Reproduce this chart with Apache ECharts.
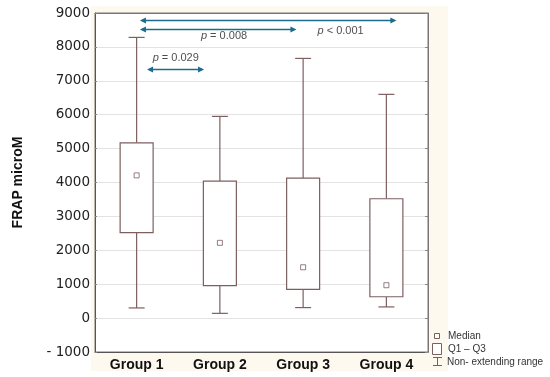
<!DOCTYPE html>
<html>
<head>
<meta charset="utf-8">
<script src="https://cdn.jsdelivr.net/npm/echarts@6/dist/echarts.min.js"></script>
<style>html,body{margin:0;padding:0;background:#fff;}#chart{width:550px;height:377px;}</style>
</head>
<body>
<div id="chart"></div>
<script>
// ---- data ----
var categories = ['Group 1', 'Group 2', 'Group 3', 'Group 4'];
var whiskerLow  = [300, 140, 310, 330];
var q1          = [2520, 960, 850, 630];
var median      = [4210, 2220, 1500, 970];
var q3          = [5170, 4040, 4130, 3520];
var whiskerHigh = [8280, 5950, 7660, 6600];
// comparison brackets
var cmpFrom   = [0.04, 0.04, 0.125];
var cmpTo     = [3.12, 1.92, 0.81];
var cmpY      = [8800, 8520, 7340];
var cmpLabel  = ['< 0.001', '= 0.008', '= 0.029'];
var cmpLabelX = [2.45, 1.05, 0.47];
var cmpLabelY = [8470, 8320, 7680];
var yTicks = { min: -1000, max: 9000, interval: 1000 };

var boxColor = '#7d5f60';
var arrowColor = '#1c6b8c';

var chart = echarts.init(document.getElementById('chart'), null, {renderer: 'canvas'});

var boxData = categories.map(function (c, i) {
  return [i, whiskerLow[i], q1[i], median[i], q3[i], whiskerHigh[i]];
});
var cmpData = cmpFrom.map(function (f, i) { return [f, cmpTo[i], cmpY[i]]; });
var labelData = cmpLabel.map(function (l, i) { return { value: [cmpLabelX[i], cmpLabelY[i]], lab: l }; });

function renderBox(params, api) {
  var i = api.value(0);
  var pLow = api.coord([i, api.value(1)]);
  var pQ1 = api.coord([i, api.value(2)]);
  var pQ3 = api.coord([i, api.value(4)]);
  var pHigh = api.coord([i, api.value(5)]);
  var x = pLow[0];
  var bw = 33, cw = 16;
  var st = { stroke: boxColor, lineWidth: 1.2, fill: null };
  return {
    type: 'group',
    children: [
      { type: 'line', shape: { x1: x, y1: pHigh[1], x2: x, y2: pQ3[1] }, style: st },
      { type: 'line', shape: { x1: x, y1: pQ1[1], x2: x, y2: pLow[1] }, style: st },
      { type: 'line', shape: { x1: x - cw / 2, y1: pHigh[1], x2: x + cw / 2, y2: pHigh[1] }, style: st },
      { type: 'line', shape: { x1: x - cw / 2, y1: pLow[1], x2: x + cw / 2, y2: pLow[1] }, style: st },
      { type: 'rect', shape: { x: x - bw / 2, y: pQ3[1], width: bw, height: pQ1[1] - pQ3[1] }, style: { stroke: boxColor, lineWidth: 1.2, fill: '#fff' } }
    ]
  };
}

function renderArrow(params, api) {
  var a = api.coord([api.value(0), api.value(2)]);
  var b = api.coord([api.value(1), api.value(2)]);
  var y = Math.round(a[1]) + 0.5;
  var h = 3, l = 6;
  return {
    type: 'group',
    children: [
      { type: 'line', shape: { x1: a[0] + 2, y1: y, x2: b[0] - 2, y2: y }, style: { stroke: arrowColor, lineWidth: 1.3 } },
      { type: 'polygon', shape: { points: [[a[0], y], [a[0] + l, y - h], [a[0] + l, y + h]] }, style: { fill: arrowColor } },
      { type: 'polygon', shape: { points: [[b[0], y], [b[0] - l, y - h], [b[0] - l, y + h]] }, style: { fill: arrowColor } }
    ]
  };
}

var legendFont = '10px "Liberation Sans", Arial, sans-serif';
var option = {
  animation: false,
  backgroundColor: '#ffffff',
  graphic: [
    { type: 'rect', z: -10, shape: { x: 91, y: 6, width: 357, height: 365 }, style: { fill: '#fdf9ef' } },
    // legend
    { type: 'rect', shape: { x: 434.5, y: 333.5, width: 5, height: 5 }, style: { fill: '#fff', stroke: boxColor, lineWidth: 1 } },
    { type: 'text', x: 448, y: 336, style: { text: 'Median', font: legendFont, fill: '#333', verticalAlign: 'middle' } },
    { type: 'rect', shape: { x: 432.5, y: 343.5, width: 9, height: 11 }, style: { fill: '#fff', stroke: boxColor, lineWidth: 1 } },
    { type: 'text', x: 448, y: 349, style: { text: 'Q1 – Q3', font: legendFont, fill: '#333', verticalAlign: 'middle' } },
    { type: 'polyline', shape: { points: [[433, 357.5], [442, 357.5]] }, style: { stroke: boxColor, lineWidth: 1 } },
    { type: 'polyline', shape: { points: [[437.5, 357.5], [437.5, 365.5]] }, style: { stroke: boxColor, lineWidth: 1 } },
    { type: 'polyline', shape: { points: [[433, 365.5], [442, 365.5]] }, style: { stroke: boxColor, lineWidth: 1 } },
    { type: 'text', x: 447, y: 362, style: { text: 'Non- extending range', font: legendFont, fill: '#333', verticalAlign: 'middle' } }
  ],
  grid: {
    left: 95, right: 122, top: 13, bottom: 25,
    show: true, backgroundColor: '#ffffff', borderColor: '#777', borderWidth: 1
  },
  xAxis: [
    {
      type: 'category', data: categories, position: 'bottom',
      axisLine: { onZero: false, lineStyle: { color: '#555' } },
      axisTick: { inside: true, alignWithLabel: true, length: 3, lineStyle: { color: '#777' }, interval: 0 },
      axisLabel: { color: '#111', fontWeight: 'bold', fontSize: 14, fontFamily: '"Liberation Sans", Arial, sans-serif', margin: 6 },
      splitLine: { show: false }
    },
    {
      type: 'category', data: categories, position: 'top',
      axisLine: { onZero: false, lineStyle: { color: '#777' } },
      axisTick: { inside: true, alignWithLabel: true, length: 3, lineStyle: { color: '#777' }, interval: 0 },
      axisLabel: { show: false }, splitLine: { show: false }
    },
    { type: 'value', min: -0.5, max: 3.5, show: false, axisLine: { onZero: false } }
  ],
  yAxis: [
    {
      type: 'value', min: yTicks.min, max: yTicks.max, interval: yTicks.interval,
      name: 'FRAP microM', nameLocation: 'middle', nameGap: 70,
      nameTextStyle: { fontWeight: 'bold', fontSize: 14, color: '#111', fontFamily: '"Liberation Sans", Arial, sans-serif' },
      axisLine: { show: true, onZero: false, lineStyle: { color: '#555' } },
      axisTick: { show: true, inside: true, length: 2, lineStyle: { color: '#888' } },
      axisLabel: {
        color: '#222', fontSize: 13.5, fontFamily: '"DejaVu Sans", sans-serif', margin: 5,
        formatter: function (v) { return v < 0 ? '- ' + Math.abs(v) : String(v); }
      },
      splitLine: { show: true, lineStyle: { color: '#e3e3e3', width: 1 } }
    },
    {
      type: 'value', min: yTicks.min, max: yTicks.max, interval: yTicks.interval, position: 'right',
      axisLine: { show: true, onZero: false, lineStyle: { color: '#777' } },
      axisTick: { show: true, inside: true, length: 3, lineStyle: { color: '#888' } },
      axisLabel: { show: false }, splitLine: { show: false }
    }
  ],
  series: [
    {
      type: 'custom', name: 'box', xAxisIndex: 0, yAxisIndex: 0,
      renderItem: renderBox, data: boxData, z: 2
    },
    {
      type: 'scatter', name: 'Median', xAxisIndex: 0, yAxisIndex: 0,
      data: median.map(function (m, i) { return [i, m]; }),
      symbol: 'rect', symbolSize: 5,
      itemStyle: { color: '#fff', borderColor: boxColor, borderWidth: 1 }, z: 3
    },
    {
      type: 'custom', name: 'cmp', xAxisIndex: 2, yAxisIndex: 0,
      renderItem: renderArrow, data: cmpData, z: 4
    },
    {
      type: 'scatter', name: 'cmpLabel', xAxisIndex: 2, yAxisIndex: 0,
      data: labelData, symbolSize: 0, z: 4,
      label: {
        show: true, position: 'inside',
        formatter: function (p) { return '{i|p} ' + p.data.lab; },
        color: '#222', fontSize: 11, fontFamily: '"Liberation Sans", Arial, sans-serif',
        rich: { i: { fontStyle: 'italic', fontSize: 11, color: '#222', fontFamily: '"Liberation Sans", Arial, sans-serif' } }
      }
    }
  ]
};
chart.setOption(option);
</script>
</body>
</html>
